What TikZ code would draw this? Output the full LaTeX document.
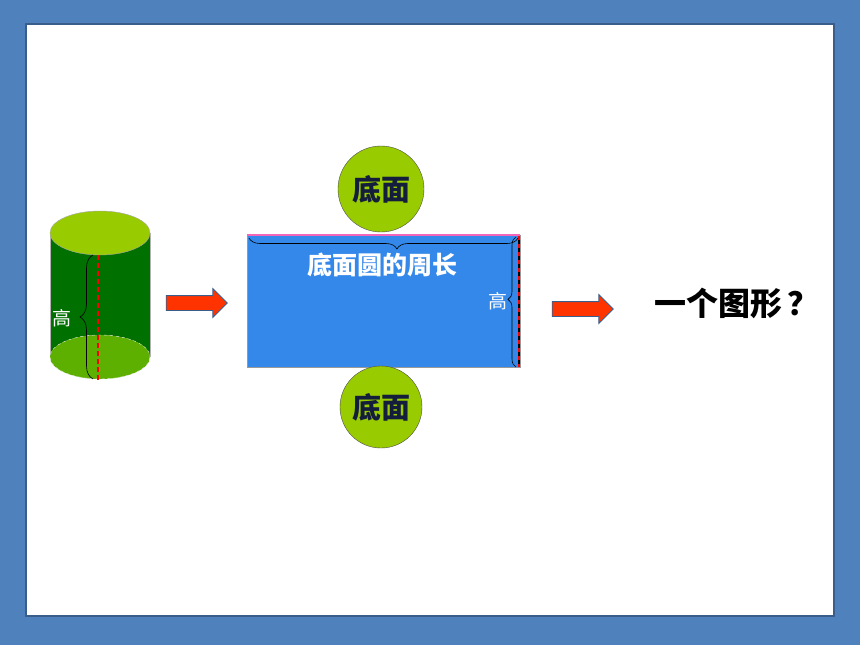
\documentclass[tikz,border=0pt]{standalone}
\usepackage{fontspec}
\usepackage{xcolor}
\usetikzlibrary{shapes.arrows,decorations.pathreplacing}
\newfontfamily\cjk{Noto Sans CJK SC}
\definecolor{slideblue}{RGB}{79,129,189}
\definecolor{frameblue}{RGB}{58,94,140}
\definecolor{bodygreen}{RGB}{0,112,0}
\definecolor{lidgreen}{RGB}{153,204,0}
\definecolor{basegreen}{RGB}{94,176,0}
\definecolor{sheetblue}{RGB}{51,136,234}
\definecolor{arrowred}{RGB}{255,51,0}
\definecolor{facetext}{RGB}{20,30,60}
\tikzset{
  face/.style={circle,draw=black!70,fill=lidgreen,minimum size=86pt,inner sep=0pt,
    font=\cjk\fontsize{29}{32}\selectfont\bfseries,text=facetext},
  bigarrow/.style={single arrow,draw=frameblue,thick,fill=arrowred,minimum height=61pt,
    inner sep=7pt,single arrow head extend=7pt,single arrow head indent=0pt},
  bracket/.style={decorate,decoration={brace,amplitude=#1},semithick},
}
\begin{document}
\begin{tikzpicture}[x=1pt,y=-1pt]
      % Slide background
      \fill[slideblue] (0,0) rectangle (860,645);
      \draw[frameblue,line width=2pt,fill=white] (26,24) rectangle (834,616);
      % Cylinder
      \fill[bodygreen] (50,233) -- (50,357) arc[start angle=180,end angle=360,x radius=50,y radius=22]
        -- (150,233) -- cycle;
      \draw[gray!60] (50,233) -- (50,357) (150,233) -- (150,357);
      \draw[white!80!gray,dashed,fill=basegreen] (100,357) ellipse[x radius=50,y radius=22];
      \draw[gray!70,fill=lidgreen] (100,233) ellipse[x radius=50,y radius=22];
      \draw[red,line width=1.5pt,dash pattern=on 5pt off 3pt] (98,255) -- (98,380);
      \draw[bracket=13pt] (93,379) -- (93,255);
      \node[text=white,font=\cjk\fontsize{19}{21}\selectfont] (cylH) at (62,318) {高};
      % Arrows
      \node[bigarrow] (arrA) at (193,303) {};
      \node[bigarrow] (arrB) at (579,309) {};
      % Unrolled side
      \draw[gray!80,fill=sheetblue] (247,235) rectangle (520,367);
      \draw[magenta!60,line width=2pt] (247,235) -- (520,235);
      \draw[black,line width=1.8pt] (519,236) -- (519,367);
      \draw[red,line width=1.8pt,dash pattern=on 4pt off 4pt] (519,236) -- (519,367);
      \draw[bracket=11pt,decoration={aspect=0.45}] (518,238) -- (249,238);
      \draw[bracket=8pt,decoration={aspect=0.52}] (516,367) -- (516,237);
      \node[text=white,font=\cjk\fontsize{25}{28}\selectfont\bfseries] (girth) at (382,265) {底面圆的周长};
      \node[text=white,font=\cjk\fontsize{19}{21}\selectfont] (sheetH) at (498,301) {高};
      % Bases
      \node[face] (topFace) at (381,189) {底面};
      \node[face,minimum size=82pt] (lowFace) at (381,407) {底面};
      % Question
      \node[font=\cjk\fontsize{32}{36}\selectfont\bfseries] (ask) at (737,303) {一个图形\,？};
    \end{tikzpicture}
\end{document}
